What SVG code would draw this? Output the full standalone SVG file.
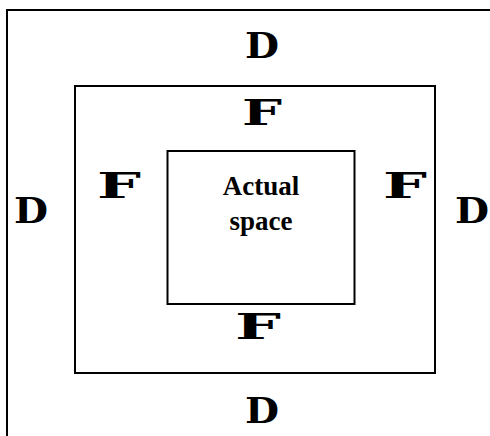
<svg xmlns="http://www.w3.org/2000/svg" width="490" height="436" viewBox="0 0 490 436">
<style>
.line{fill:none;stroke:#000;stroke-width:2}
.big{font-family:"DejaVu Serif","Liberation Serif",serif;font-weight:bold;font-size:35px;fill:#000;text-anchor:middle}
.lbl{font-family:"Liberation Serif","Times New Roman",serif;font-weight:bold;font-size:27px;fill:#000;text-anchor:middle}
</style>
<rect width="490" height="436" fill="#fff"/>
<g id="outer">
<polyline class="line" points="7,436 7,10 490,10"/>
<text class="big" x="262" y="58" textLength="34" lengthAdjust="spacingAndGlyphs">D</text>
<text class="big" x="31" y="223" textLength="34" lengthAdjust="spacingAndGlyphs">D</text>
<text class="big" x="472" y="223" textLength="34" lengthAdjust="spacingAndGlyphs">D</text>
<text class="big" x="262" y="423" textLength="34" lengthAdjust="spacingAndGlyphs">D</text>
</g>
<g id="middle">
<rect class="line" x="75" y="86" width="360" height="287"/>
<text class="big" x="262" y="125" textLength="40" lengthAdjust="spacingAndGlyphs">F</text>
<text class="big" x="119" y="198" textLength="44" lengthAdjust="spacingAndGlyphs">F</text>
<text class="big" x="405" y="198" textLength="44" lengthAdjust="spacingAndGlyphs">F</text>
<text class="big" x="258" y="339" textLength="46" lengthAdjust="spacingAndGlyphs">F</text>
</g>
<g id="inner">
<rect class="line" x="167.5" y="151" width="187" height="153"/>
<text class="lbl" x="261" y="195">Actual</text>
<text class="lbl" x="261" y="230">space</text>
</g>
<g id="connectors"></g>
</svg>
